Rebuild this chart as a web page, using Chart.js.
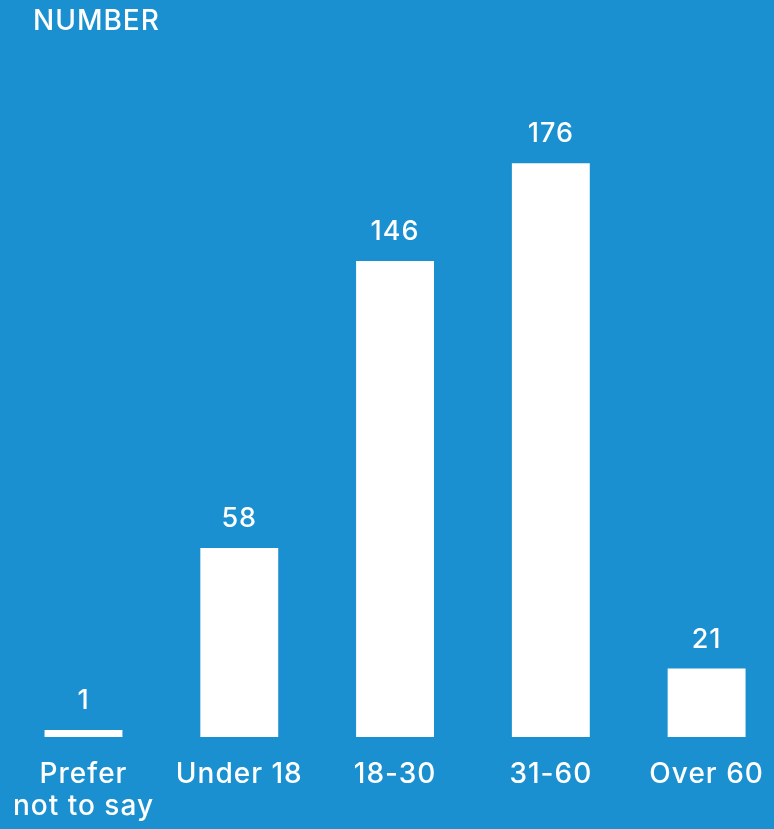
<!DOCTYPE html>
<html>
<head>
<meta charset="utf-8">
<script src="https://cdn.jsdelivr.net/npm/chart.js@4/dist/chart.umd.min.js"></script>
<style>
  html, body { margin: 0; padding: 0; background: #1b90d1; overflow: hidden; width: 774px; height: 829px; }
  #wrap { position: absolute; left: 0; top: 0; width: 790px; height: 829px; }
</style>
</head>
<body>
<div id="wrap"><canvas id="c" width="790" height="829"></canvas></div>
<script>
const title = "NUMBER";
const categories = [["Prefer", "not to say"], "Under 18", "18-30", "31-60", "Over 60"];
const counts = [1, 58, 146, 176, 21];

const FONT = "Inter, Lato, sans-serif";

const extras = {
  id: 'extras',
  beforeDraw(chart) {
    chart.ctx.letterSpacing = '1px';
  },
  afterDatasetsDraw(chart) {
    const ctx = chart.ctx;
    ctx.save();
    ctx.letterSpacing = '1px';
    ctx.fillStyle = '#ffffff';
    ctx.font = `500 27px ${FONT}`;
    ctx.textAlign = 'center';
    ctx.textBaseline = 'alphabetic';
    const meta = chart.getDatasetMeta(0);
    meta.data.forEach((bar, i) => {
      ctx.fillText(String(counts[i]), bar.x, bar.y - 21);
    });
    ctx.textAlign = 'left';
    ctx.font = `500 28px ${FONT}`;
    ctx.fillText(title, 33, 30);
    ctx.restore();
  }
};

new Chart(document.getElementById('c'), {
  type: 'bar',
  data: {
    labels: categories,
    datasets: [{
      data: counts,
      backgroundColor: '#ffffff',
      borderWidth: 0,
      barPercentage: 0.5,
      categoryPercentage: 1.0,
      minBarLength: 7
    }]
  },
  options: {
    responsive: false,
    animation: false,
    events: [],
    layout: { padding: { top: 85, left: 5.6, right: 5.5, bottom: 0 } },
    plugins: { legend: { display: false }, title: { display: false }, tooltip: { enabled: false } },
    scales: {
      x: {
        grid: { display: false, drawTicks: false },
        border: { display: false },
        afterFit(scale) { scale.height = 92; scale.paddingLeft = 0; scale.paddingRight = 0; },
        ticks: {
          color: '#ffffff',
          padding: 21,
          maxRotation: 0,
          autoSkip: false,
          font: { family: FONT, size: 28, weight: '500', lineHeight: 1.15 }
        }
      },
      y: {
        display: false,
        min: 0,
        max: 200
      }
    }
  },
  plugins: [extras]
});
</script>
</body>
</html>
